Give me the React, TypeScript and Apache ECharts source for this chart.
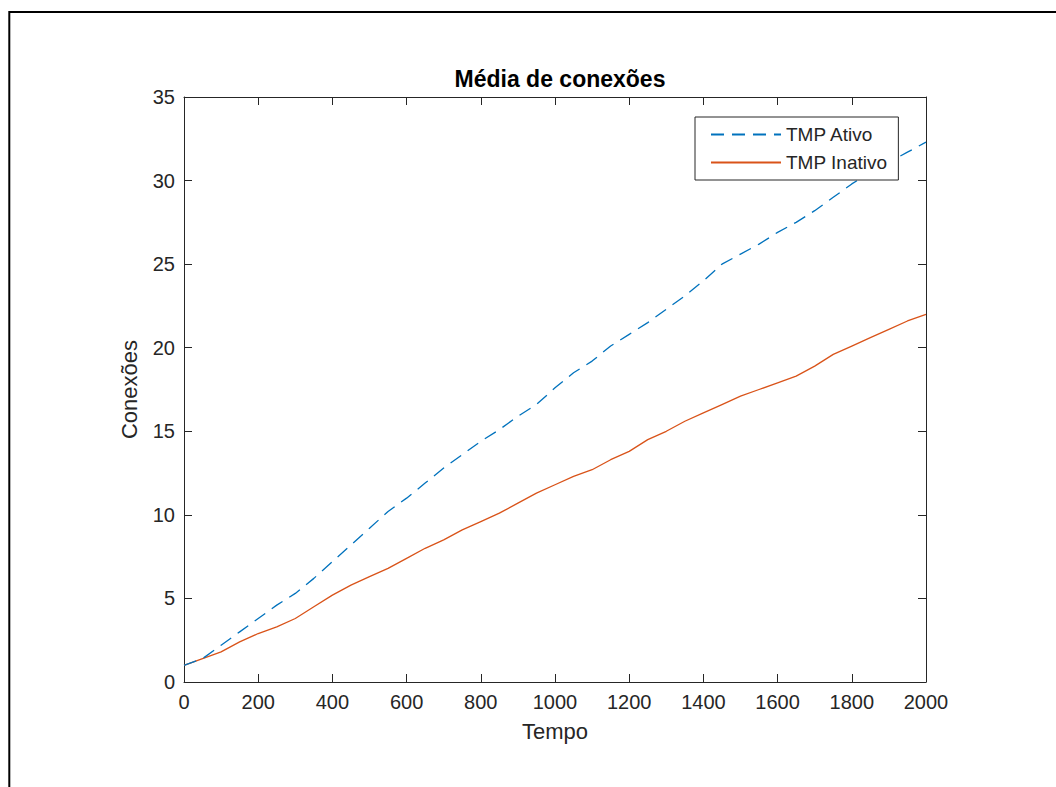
import React, { useEffect, useRef } from "react";
import * as echarts from "echarts";

const tempo = [0, 50, 100, 150, 200, 250, 300, 350, 400, 450, 500, 550, 600, 650, 700, 750, 800, 850, 900, 950, 1000, 1050, 1100, 1150, 1200, 1250, 1300, 1350, 1400, 1450, 1500, 1550, 1600, 1650, 1700, 1750, 1800, 1850, 1900, 1950, 2000];

const tmpAtivo = [1.0, 1.4, 2.2, 3.0, 3.8, 4.6, 5.3, 6.2, 7.2, 8.2, 9.2, 10.2, 11.0, 11.9, 12.8, 13.6, 14.4, 15.1, 15.9, 16.6, 17.6, 18.5, 19.2, 20.1, 20.8, 21.5, 22.3, 23.1, 24.0, 25.0, 25.6, 26.2, 26.9, 27.5, 28.2, 29.0, 29.8, 30.5, 31.1, 31.7, 32.3];

const tmpInativo = [1.0, 1.4, 1.8, 2.4, 2.9, 3.3, 3.8, 4.5, 5.2, 5.8, 6.3, 6.8, 7.4, 8.0, 8.5, 9.1, 9.6, 10.1, 10.7, 11.3, 11.8, 12.3, 12.7, 13.3, 13.8, 14.5, 15.0, 15.6, 16.1, 16.6, 17.1, 17.5, 17.9, 18.3, 18.9, 19.6, 20.1, 20.6, 21.1, 21.6, 22.0];

const seriesNames = ["TMP Ativo", "TMP Inativo"];
const titleText = "Média de conexões";
const xName = "Tempo";
const yName = "Conexões";

const FONT = "Liberation Sans, Arial, sans-serif";
const AX = "#262626";

export default function App() {
  const ref = useRef<HTMLDivElement>(null);
  useEffect(() => {
    if (!ref.current) return;
    const chart = echarts.init(ref.current, undefined, { renderer: "svg" });
    const toPairs = (ys: number[]) => tempo.map((t, i) => [t, ys[i]]);
    const hiddenAxisCommon = {
      axisLine: { show: true, onZero: false, lineStyle: { color: AX, width: 1 } },
      axisTick: { show: true, inside: true, length: 8, lineStyle: { color: AX } },
      axisLabel: { show: false },
      splitLine: { show: false },
    };
    chart.setOption({
      animation: false,
      backgroundColor: "#ffffff",
      title: {
        text: titleText,
        left: 555,
        top: 62,
        textAlign: "center",
        textStyle: { fontFamily: FONT, fontSize: 23, fontWeight: "bold", color: "#000" },
      },
      legend: {
        orient: "vertical",
        left: 695,
        top: 117,
        padding: [8, 11, 8, 15],
        itemGap: 9,
        itemWidth: 70,
        itemHeight: 20,
        backgroundColor: "#fff",
        borderColor: AX,
        borderWidth: 1,
        borderRadius: 0,
        itemStyle: { opacity: 0 },
        textStyle: { fontFamily: FONT, fontSize: 19, color: AX },
        data: seriesNames,
      },
      grid: { left: 184, top: 97, right: 130, bottom: 105, containLabel: false },
      xAxis: [
        {
          type: "value",
          min: 0,
          max: 2000,
          interval: 200,
          position: "bottom",
          name: xName,
          nameLocation: "middle",
          nameGap: 38,
          nameTextStyle: { fontFamily: FONT, fontSize: 22, color: AX },
          axisLine: { show: true, onZero: false, lineStyle: { color: AX, width: 1 } },
          axisTick: { show: true, inside: true, length: 8, lineStyle: { color: AX } },
          axisLabel: { fontFamily: FONT, fontSize: 20, color: AX, margin: 10, formatter: (v: number) => String(v) },
          splitLine: { show: false },
        },
        { type: "value", min: 0, max: 2000, interval: 200, position: "top", ...hiddenAxisCommon },
      ],
      yAxis: [
        {
          type: "value",
          min: 0,
          max: 35,
          interval: 5,
          position: "left",
          name: yName,
          nameLocation: "middle",
          nameGap: 44,
          nameTextStyle: { fontFamily: FONT, fontSize: 22, color: AX },
          axisLine: { show: true, onZero: false, lineStyle: { color: AX, width: 1 } },
          axisTick: { show: true, inside: true, length: 8, lineStyle: { color: AX } },
          axisLabel: { fontFamily: FONT, fontSize: 20, color: AX, margin: 9, formatter: (v: number) => String(v) },
          splitLine: { show: false },
        },
        { type: "value", min: 0, max: 35, interval: 5, position: "right", ...hiddenAxisCommon },
      ],
      graphic: [
        {
          type: "rect",
          shape: { x: 9.3, y: 12, width: 1100, height: 1000 },
          style: { fill: "none", stroke: "#000", lineWidth: 2 },
          silent: true,
        },
      ],
      series: [
        {
          name: seriesNames[0],
          type: "line",
          data: toPairs(tmpAtivo),
          symbol: "none",
          showSymbol: false,
          lineStyle: { color: "#0072BD", width: 1.3, type: [13, 8] },
          itemStyle: { color: "#0072BD" },
          z: 3,
        },
        {
          name: seriesNames[1],
          type: "line",
          data: toPairs(tmpInativo),
          symbol: "none",
          showSymbol: false,
          lineStyle: { color: "#D95319", width: 1.3 },
          itemStyle: { color: "#D95319" },
          z: 2,
        },
      ],
    });
    return () => chart.dispose();
  }, []);
  return (
    <div
      ref={ref}
      style={{ position: "absolute", left: 0, top: 0, width: 1056, height: 787, background: "#fff" }}
    />
  );
}
